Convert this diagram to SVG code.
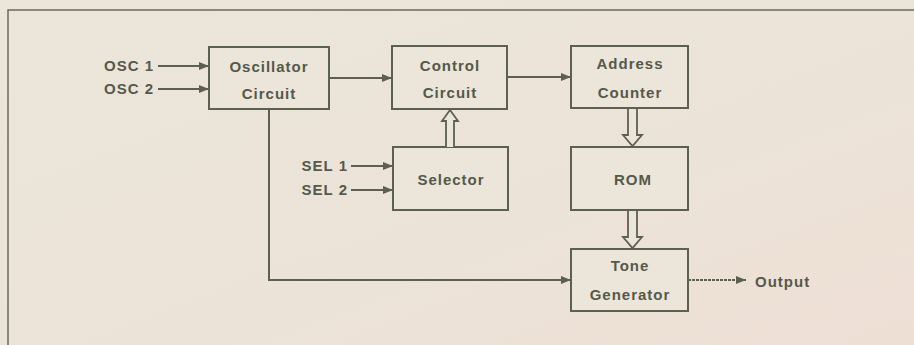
<svg xmlns="http://www.w3.org/2000/svg" width="914" height="345" viewBox="0 0 914 345">
<defs>
<linearGradient id="bg" x1="0" y1="0" x2="1" y2="1">
<stop offset="0" stop-color="#ebe5da"/>
<stop offset="0.6" stop-color="#ece3d8"/>
<stop offset="1" stop-color="#eedfd5"/>
</linearGradient>
<marker id="ah" viewBox="0 0 10 8" refX="10" refY="4" markerWidth="10" markerHeight="8" markerUnits="userSpaceOnUse" orient="auto">
<path d="M0,0 L10,4 L0,8 Z" fill="#5c604f"/>
</marker>
<style>
.box{fill:#ebe5da;stroke:#5c604f;stroke-width:2}
.ln{fill:none;stroke:#5c604f;stroke-width:2}
.hol{fill:#ebe5da;stroke:#5c604f;stroke-width:1.8;stroke-linejoin:miter}
text{font-family:"Liberation Sans",Arial,sans-serif;font-size:15px;font-weight:bold;fill:#55594a;letter-spacing:1px}
.c{text-anchor:middle}
.e{text-anchor:end}
</style>
</defs>
<rect width="914" height="345" fill="url(#bg)"/>
<path d="M8,345 L8,10 L914,10" fill="none" stroke="#6a6a5c" stroke-width="1.5"/>

<g id="oscillator">
<rect class="box" x="209" y="47" width="120" height="62"/>
<text class="c" x="269" y="72">Oscillator</text>
<text class="c" x="269" y="99">Circuit</text>
</g>
<g id="control">
<rect class="box" x="392" y="46" width="115" height="63"/>
<text class="c" x="450" y="71">Control</text>
<text class="c" x="450" y="98">Circuit</text>
</g>
<g id="address">
<rect class="box" x="571" y="46" width="117" height="62"/>
<text class="c" x="630" y="69">Address</text>
<text class="c" x="630" y="98">Counter</text>
</g>
<g id="selector">
<rect class="box" x="393" y="147" width="115" height="63"/>
<text class="c" x="451" y="185">Selector</text>
</g>
<g id="rom">
<rect class="box" x="571" y="147" width="117" height="63"/>
<text class="c" x="633" y="185">ROM</text>
</g>
<g id="tone">
<rect class="box" x="571" y="249" width="117" height="62"/>
<text class="c" x="630" y="271">Tone</text>
<text class="c" x="630" y="300">Generator</text>
</g>

<g id="labels">
<text class="e" x="154" y="71">OSC 1</text>
<text class="e" x="154" y="94">OSC 2</text>
<text class="e" x="348" y="171">SEL 1</text>
<text class="e" x="348" y="195">SEL 2</text>
<text x="755" y="287">Output</text>
</g>

<g id="connectors">
<line class="ln" x1="158" y1="66" x2="209" y2="66" marker-end="url(#ah)"/>
<line class="ln" x1="158" y1="89" x2="209" y2="89" marker-end="url(#ah)"/>
<line class="ln" x1="329" y1="78" x2="392" y2="78" marker-end="url(#ah)"/>
<line class="ln" x1="507" y1="77" x2="571" y2="77" marker-end="url(#ah)"/>
<line class="ln" x1="351" y1="166" x2="393" y2="166" marker-end="url(#ah)"/>
<line class="ln" x1="351" y1="190" x2="393" y2="190" marker-end="url(#ah)"/>
<polyline class="ln" points="269,109 269,280 571,280" marker-end="url(#ah)"/>
<line class="ln" x1="688" y1="280" x2="746" y2="280" stroke-dasharray="3,1" marker-end="url(#ah)"/>
<path class="hol" d="M446,147 L446,121 L442,121 L450,110 L458,121 L454,121 L454,147"/>
<path class="hol" d="M628,109 L628,135 L623,135 L632.5,146 L642,135 L637,135 L637,109"/>
<path class="hol" d="M628,211 L628,237 L623,237 L632.5,248 L642,237 L637,237 L637,211"/>
</g>
</svg>
